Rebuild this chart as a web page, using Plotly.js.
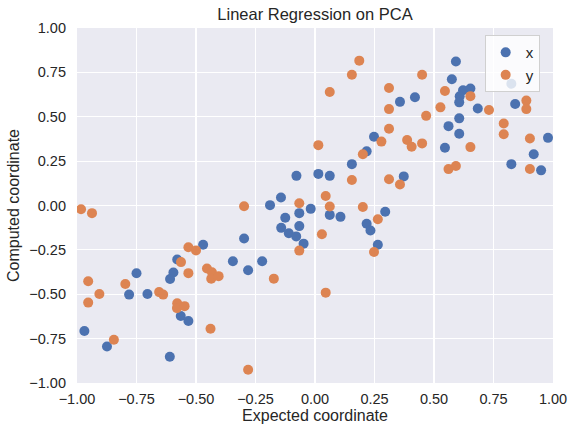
<!DOCTYPE html>
<html>
<head>
<meta charset="utf-8">
<script src="https://cdn.plot.ly/plotly-3.0.1.min.js"></script>
<style>
  html, body { margin: 0; padding: 0; background: #ffffff; }
  #chart { width: 569px; height: 427px; }
</style>
</head>
<body>
<div id="chart"></div>
<script>
// Expected vs. computed coordinate, x component
const xExpected = [
  0.248, 0.217, 0.155, -0.078, 0.014, 0.062, -0.143, 0.592, 0.575, 0.622,
  0.653, 0.825, 0.357, 0.420, 0.608, 0.606, 0.684, 0.841, 0.606, 0.561,
  0.606, 0.546, 0.979, 0.919, 0.825, 0.950, 0.373, -0.470, -0.579, -0.595,
  -0.750, -0.609, -0.345, -0.781, -0.704, -0.564, -0.532, -0.969, -0.874, -0.610,
  -0.189, -0.018, -0.066, 0.062, 0.107, 0.295, -0.125, 0.217, 0.233, -0.142,
  -0.110, -0.066, -0.079, -0.048, -0.298, 0.264, -0.281, -0.222
];
const xComputed = [
  0.387, 0.305, 0.233, 0.167, 0.178, 0.167, 0.045, 0.811, 0.711, 0.649,
  0.659, 0.686, 0.584, 0.610, 0.615, 0.581, 0.546, 0.572, 0.491, 0.447,
  0.404, 0.325, 0.381, 0.289, 0.233, 0.198, 0.164, -0.221, -0.304, -0.377,
  -0.382, -0.414, -0.314, -0.502, -0.499, -0.623, -0.651, -0.707, -0.794, -0.852,
  0.002, -0.019, -0.043, -0.053, -0.064, -0.035, -0.069, -0.103, -0.141, -0.126,
  -0.156, -0.116, -0.174, -0.215, -0.186, -0.221, -0.365, -0.314
];

// Expected vs. computed coordinate, y component
const yExpected = [
  0.186, 0.155, 0.062, 0.311, 0.311, 0.311, 0.279, 0.014, 0.201, 0.155,
  0.311, 0.045, -0.066, 0.450, 0.546, 0.653, 0.527, 0.731, 0.888, 0.888,
  0.467, 0.793, 0.793, 0.387, 0.406, 0.450, 0.653, 0.903, 0.903, 0.561,
  0.592, 0.357, -0.983, -0.937, -0.532, -0.500, -0.563, -0.532, -0.953, -0.797,
  -0.454, -0.433, -0.436, -0.405, -0.906, -0.655, -0.638, -0.953, -0.579, -0.580,
  -0.548, -0.439, -0.845, -0.298, 0.062, 0.201, 0.264, 0.029, -0.066, 0.248,
  -0.173, 0.045, -0.281
];
const yComputed = [
  0.816, 0.737, 0.639, 0.662, 0.543, 0.432, 0.360, 0.340, 0.289, 0.144,
  0.148, 0.054, 0.013, 0.737, 0.645, 0.616, 0.553, 0.538, 0.591, 0.543,
  0.505, 0.462, 0.401, 0.369, 0.331, 0.350, 0.329, 0.377, 0.206, 0.205,
  0.223, 0.118, -0.021, -0.043, -0.235, -0.253, -0.319, -0.381, -0.427, -0.442,
  -0.355, -0.376, -0.413, -0.398, -0.499, -0.488, -0.502, -0.547, -0.551, -0.578,
  -0.567, -0.694, -0.756, -0.004, -0.006, -0.008, -0.077, -0.162, -0.254, -0.262,
  -0.412, -0.491, -0.925
];

const tickVals = [-1, -0.75, -0.5, -0.25, 0, 0.25, 0.5, 0.75, 1];
const tickText = ['\u22121.00', '\u22120.75', '\u22120.50', '\u22120.25', '0.00', '0.25', '0.50', '0.75', '1.00'];

const FONT = 'Liberation Sans, Arial, DejaVu Sans, sans-serif';
const INK = '#262626';

const traces = [
  {
    type: 'scatter', mode: 'markers', name: 'x',
    x: xExpected, y: xComputed,
    marker: { color: '#4C72B0', size: 10, line: { width: 0 } }
  },
  {
    type: 'scatter', mode: 'markers', name: 'y',
    x: yExpected, y: yComputed,
    marker: { color: '#DD8452', size: 10, line: { width: 0 } }
  }
];

const axisCommon = {
  range: [-1, 1],
  tickvals: tickVals,
  ticktext: tickText,
  showgrid: true,
  gridcolor: '#ffffff',
  gridwidth: 1.2,
  zeroline: false,
  showline: false,
  ticks: '',
  tickfont: { family: FONT, size: 14.5, color: INK }
};

const layout = {
  width: 569,
  height: 427,
  margin: { l: 77, r: 16, t: 28, b: 44, pad: 0 },
  paper_bgcolor: '#ffffff',
  plot_bgcolor: '#EAEAF2',
  font: { family: FONT, color: INK },
  title: {
    text: 'Linear Regression on PCA',
    font: { family: FONT, size: 16.5, color: INK },
    x: 0.5, xanchor: 'center', xref: 'paper',
    y: 0.967, yanchor: 'middle'
  },
  xaxis: Object.assign({}, axisCommon, {
    title: { text: 'Expected coordinate', font: { family: FONT, size: 16, color: INK }, standoff: 4 },
    ticklabelstandoff: 5
  }),
  yaxis: Object.assign({}, axisCommon, {
    title: { text: 'Computed coordinate', font: { family: FONT, size: 16, color: INK }, standoff: 5 },
    ticklabelstandoff: 10
  }),
  showlegend: true,
  legend: {
    x: 0.972, xanchor: 'right',
    y: 0.98, yanchor: 'top',
    bgcolor: 'rgba(255,255,255,0.8)',
    bordercolor: '#d0d0d0',
    borderwidth: 1,
    font: { family: FONT, size: 15, color: INK },
    tracegroupgap: 0
  }
};

Plotly.newPlot('chart', traces, layout, { staticPlot: true, displayModeBar: false });
</script>
</body>
</html>
